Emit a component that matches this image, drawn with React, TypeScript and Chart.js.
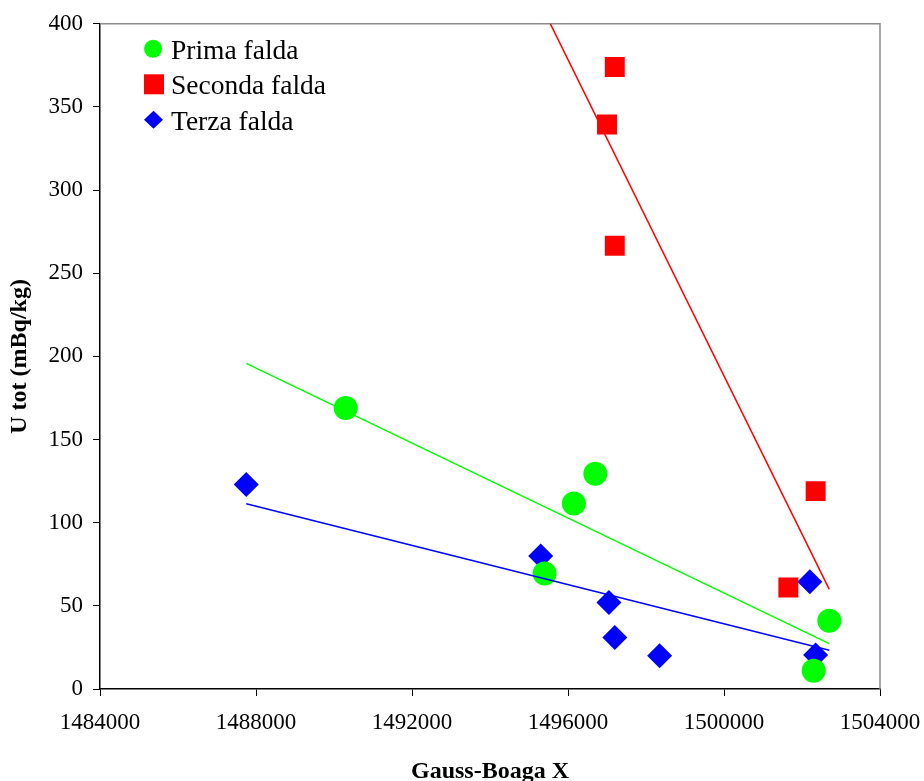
import React, { useEffect, useRef } from 'react';
import { Chart, registerables } from 'chart.js';

Chart.register(...registerables);

const seriesNames = ['Prima falda', 'Seconda falda', 'Terza falda'];
const seriesColors = ['#00ff00', '#ff0000', '#0000ff'];

const primaX = [1490300, 1496150, 1496700, 1495400, 1502300, 1502700];
const primaY = [169, 111.5, 129.5, 69.5, 11, 41];

const secondaX = [1497200, 1497000, 1497200, 1501650, 1502350];
const secondaY = [374, 339.5, 266.5, 61, 119];

const terzaX = [1487750, 1495300, 1497050, 1497200, 1498350, 1502200, 1502350];
const terzaY = [123, 80, 52, 31, 20, 64.5, 20.5];

const xTicks = [1484000, 1488000, 1492000, 1496000, 1500000, 1504000];
const yTicks = [0, 50, 100, 150, 200, 250, 300, 350, 400];

const xTitle = 'Gauss-Boaga X';
const yTitle = 'U tot (mBq/kg)';

function linearFit(xs: number[], ys: number[]) {
  const n = xs.length;
  const mx = xs.reduce((s, v) => s + v, 0) / n;
  const my = ys.reduce((s, v) => s + v, 0) / n;
  let sxy = 0;
  let sxx = 0;
  for (let i = 0; i < n; i++) {
    sxy += (xs[i] - mx) * (ys[i] - my);
    sxx += (xs[i] - mx) * (xs[i] - mx);
  }
  const b = sxy / sxx;
  return (x: number) => my + b * (x - mx);
}

const allX = [...primaX, ...secondaX, ...terzaX];
const trendStart = Math.min(...allX);
const trendEnd = Math.max(...allX);

const FONT = '"Liberation Serif", "Times New Roman", serif';

const insideLegend = {
  id: 'insideLegend',
  afterDatasetsDraw(chart: any) {
    const { ctx, chartArea } = chart;
    const items = chart.data.datasets.filter((d: any) => !d.trend);
    ctx.save();
    items.forEach((ds: any, i: number) => {
      const baseline = chartArea.top + 35 + i * 35.5;
      const cy = baseline - 10;
      const left = chartArea.left + 44;
      ctx.fillStyle = ds.backgroundColor;
      ctx.beginPath();
      if (ds.pointStyle === 'circle') {
        ctx.arc(left + 9, cy, 9, 0, Math.PI * 2);
      } else if (ds.pointStyle === 'rect') {
        ctx.rect(left, cy - 10, 20, 20);
      } else {
        const cx = left + 9.5;
        ctx.moveTo(cx - 9.5, cy);
        ctx.lineTo(cx, cy - 9);
        ctx.lineTo(cx + 9.5, cy);
        ctx.lineTo(cx, cy + 9);
        ctx.closePath();
      }
      ctx.fill();
      ctx.fillStyle = '#000';
      ctx.font = '27.5px ' + FONT;
      ctx.textBaseline = 'alphabetic';
      ctx.textAlign = 'left';
      ctx.fillText(ds.label, chartArea.left + 71, baseline);
    });
    ctx.restore();
  },
};

const frameLines = {
  id: 'frameLines',
  beforeDatasetsDraw(chart: any) {
    const { ctx, chartArea } = chart;
    ctx.save();
    ctx.strokeStyle = '#8c8c8c';
    ctx.lineWidth = 1.5;
    ctx.beginPath();
    ctx.moveTo(chartArea.left, chartArea.top);
    ctx.lineTo(chartArea.right, chartArea.top);
    ctx.lineTo(chartArea.right, chartArea.bottom);
    ctx.stroke();
    ctx.restore();
  },
};

export default function App() {
  const canvasRef = useRef<HTMLCanvasElement | null>(null);

  useEffect(() => {
    if (!canvasRef.current) return;
    const xsList = [primaX, secondaX, terzaX];
    const ysList = [primaY, secondaY, terzaY];
    const styles = ['circle', 'rect', 'rectRot'];
    const radii = [12, 14.1, 12.5];

    const markerSets = xsList.map((xs, k) => ({
      label: seriesNames[k],
      data: xs.map((x, i) => ({ x, y: ysList[k][i] })),
      pointStyle: styles[k],
      pointRadius: radii[k],
      pointHoverRadius: radii[k],
      backgroundColor: seriesColors[k],
      borderColor: seriesColors[k],
      borderWidth: 0,
      showLine: false,
      order: 1,
    }));

    const trendSets = xsList.map((xs, k) => {
      const f = linearFit(xs, ysList[k]);
      return {
        label: '',
        trend: true,
        data: [
          { x: trendStart, y: f(trendStart) },
          { x: trendEnd, y: f(trendEnd) },
        ],
        showLine: true,
        pointRadius: 0,
        pointHoverRadius: 0,
        borderColor: seriesColors[k],
        backgroundColor: seriesColors[k],
        borderWidth: 1.5,
        fill: false,
        order: 0,
      };
    });

    const chart = new Chart(canvasRef.current, {
      type: 'scatter',
      data: { datasets: [...markerSets, ...trendSets] as any },
      options: {
        animation: false,
        responsive: false,
        events: [],
        layout: { padding: { left: 0, top: 22, right: 44, bottom: 0 } },
        plugins: {
          legend: { display: false },
          tooltip: { enabled: false },
        },
        scales: {
          x: {
            type: 'linear',
            min: xTicks[0],
            max: xTicks[xTicks.length - 1],
            afterBuildTicks: (scale: any) => {
              scale.ticks = xTicks.map((v) => ({ value: v }));
            },
            afterFit: (scale: any) => {
              scale.height = 92;
              scale.paddingRight = 0;
              scale.paddingLeft = 0;
            },
            ticks: {
              color: '#000',
              font: { family: FONT, size: 23 },
              padding: 13,
              maxRotation: 0,
              autoSkip: false,
              callback: (v: any) => String(v),
            },
            grid: {
              display: true,
              drawOnChartArea: false,
              drawTicks: true,
              tickLength: 7,
              color: '#000',
              lineWidth: 1,
            },
            border: { display: true, color: '#000', width: 1.5 },
            title: {
              display: true,
              text: xTitle,
              color: '#000',
              font: { family: FONT, size: 24, weight: 'bold', lineHeight: 0.8 },
              padding: { top: 0, bottom: 0 },
            },
          },
          y: {
            type: 'linear',
            min: yTicks[0],
            max: yTicks[yTicks.length - 1],
            afterBuildTicks: (scale: any) => {
              scale.ticks = yTicks.map((v) => ({ value: v }));
            },
            afterFit: (scale: any) => {
              scale.width = 100;
            },
            ticks: {
              color: '#000',
              font: { family: FONT, size: 23 },
              padding: 10,
              autoSkip: false,
              callback: (v: any) => String(v),
            },
            grid: {
              display: true,
              drawOnChartArea: false,
              drawTicks: true,
              tickLength: 7,
              color: '#000',
              lineWidth: 1,
            },
            border: { display: true, color: '#000', width: 1.5 },
            title: {
              display: true,
              text: yTitle,
              color: '#000',
              font: { family: FONT, size: 24, weight: 'bold', lineHeight: 0.8 },
              padding: { top: 10, bottom: 0 },
            },
          },
        },
      },
      plugins: [frameLines, insideLegend],
    } as any);

    return () => chart.destroy();
  }, []);

  return (
    <div style={{ position: 'absolute', left: 0, top: 0, width: 924, height: 781, background: '#fff' }}>
      <canvas ref={canvasRef} width={924} height={781} style={{ display: 'block' }} />
    </div>
  );
}
